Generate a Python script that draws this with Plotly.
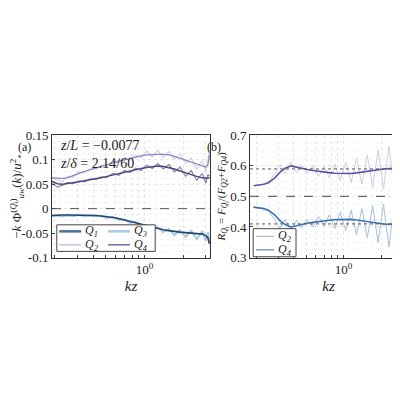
import plotly.graph_objects as go

kz = [0.19, 0.21, 0.23, 0.25, 0.28, 0.31, 0.34, 0.38, 0.42, 0.46, 0.51, 0.57, 0.63, 0.70, 0.77,
      0.85, 0.94, 1.04, 1.15, 1.27, 1.40, 1.55, 1.71, 1.89, 2.09, 2.31, 2.55, 2.82, 3.00, 3.12, 3.20]

# panel (a): smooth and raw spectra
q2_smooth = [0.063, 0.062, 0.062, 0.063, 0.067, 0.072, 0.076, 0.080, 0.083, 0.086, 0.089, 0.093, 0.097,
             0.100, 0.103, 0.106, 0.108, 0.110, 0.111, 0.111, 0.111, 0.110, 0.107, 0.103, 0.099, 0.095,
             0.090, 0.086, 0.085, 0.090, 0.110]
q2_raw = [0.063, 0.058, 0.055, 0.066, 0.064, 0.075, 0.073, 0.082, 0.081, 0.089, 0.086, 0.096, 0.094,
          0.104, 0.099, 0.110, 0.104, 0.118, 0.106, 0.119, 0.105, 0.117, 0.101, 0.112, 0.093, 0.104,
          0.080, 0.098, 0.075, 0.100, 0.120]
q4_smooth = [0.056, 0.051, 0.050, 0.051, 0.053, 0.055, 0.057, 0.059, 0.061, 0.063, 0.066, 0.069, 0.072,
             0.075, 0.077, 0.079, 0.082, 0.084, 0.086, 0.087, 0.086, 0.084, 0.081, 0.077, 0.073, 0.069,
             0.066, 0.063, 0.062, 0.062, 0.064]
q4_raw = [0.052, 0.044, 0.048, 0.053, 0.051, 0.057, 0.055, 0.061, 0.060, 0.065, 0.064, 0.072, 0.068,
          0.078, 0.074, 0.083, 0.078, 0.089, 0.082, 0.092, 0.081, 0.090, 0.075, 0.085, 0.066, 0.078,
          0.058, 0.072, 0.052, 0.070, 0.066]
q1_smooth = [-0.014, -0.013, -0.013, -0.013, -0.013, -0.013, -0.013, -0.013, -0.014, -0.015, -0.016,
             -0.018, -0.020, -0.023, -0.026, -0.029, -0.032, -0.035, -0.038, -0.041, -0.043, -0.045,
             -0.047, -0.048, -0.049, -0.050, -0.051, -0.052, -0.055, -0.060, -0.072]
q3_raw = [-0.015, -0.014, -0.016, -0.014, -0.015, -0.013, -0.015, -0.014, -0.016, -0.015, -0.019,
          -0.017, -0.023, -0.022, -0.029, -0.027, -0.036, -0.033, -0.042, -0.038, -0.048, -0.042,
          -0.054, -0.044, -0.058, -0.045, -0.062, -0.046, -0.066, -0.048, -0.070]

# panel (b): quadrant ratios
r_up_smooth = [0.535, 0.537, 0.540, 0.545, 0.560, 0.580, 0.592, 0.600, 0.596, 0.590, 0.588, 0.585,
               0.582, 0.580, 0.578, 0.576, 0.575, 0.574, 0.575, 0.577, 0.580, 0.583, 0.586, 0.589,
               0.590, 0.591, 0.590, 0.591, 0.592, 0.595, 0.600]
r_up_raw = [0.535, 0.538, 0.541, 0.548, 0.575, 0.605, 0.575, 0.612, 0.578, 0.603, 0.575, 0.600,
            0.565, 0.598, 0.560, 0.605, 0.552, 0.612, 0.545, 0.625, 0.540, 0.635, 0.530, 0.650,
            0.525, 0.665, 0.520, 0.660, 0.525, 0.640, 0.600]
r_lo_smooth = [0.465, 0.463, 0.460, 0.455, 0.440, 0.420, 0.408, 0.400, 0.404, 0.410, 0.412, 0.415,
               0.418, 0.420, 0.422, 0.424, 0.425, 0.426, 0.425, 0.423, 0.420, 0.417, 0.414, 0.411,
               0.410, 0.409, 0.410, 0.409, 0.408, 0.405, 0.400]
r_lo_raw = [0.465, 0.462, 0.459, 0.452, 0.425, 0.395, 0.425, 0.388, 0.422, 0.397, 0.425, 0.400,
            0.435, 0.402, 0.440, 0.395, 0.448, 0.388, 0.455, 0.375, 0.460, 0.365, 0.470, 0.350,
            0.475, 0.335, 0.480, 0.340, 0.475, 0.360, 0.400]

x_gridvals = [0.2, 0.3, 0.4, 0.5, 0.6, 0.7, 0.8, 0.9, 1, 2, 3]
x_gridtext = ["", "", "", "", "", "", "", "", "10<sup>0</sup>", "", ""]

FONT = "Liberation Serif"
c_q1 = "#4B6E9A"
c_q2 = "#B9B4D8"
c_q3 = "#A9C9E8"
c_q4 = "#4E4A80"

fig = go.Figure()

def add(x, y, color, width, axis):
    fig.add_trace(go.Scatter(x=x, y=y, mode="lines", line=dict(color=color, width=width),
                             xaxis="x" + axis, yaxis="y" + axis, showlegend=False))

add(kz, q2_raw, "#D3D0E8", 1.2, "")
add(kz, q2_smooth, "#8A84C0", 1.3, "")
add(kz, q4_raw, "#8884AC", 1.2, "")
add(kz, q4_smooth, c_q4, 1.5, "")
add(kz, q3_raw, c_q3, 2.0, "")
add(kz, q1_smooth, "#23466E", 1.6, "")

add(kz, r_up_raw, "#CFCBE0", 1.0, "2")
add(kz, r_up_smooth, "#5A52A8", 1.6, "2")
add(kz, r_lo_raw, "#A8BED6", 1.0, "2")
add(kz, r_lo_smooth, "#3F73B0", 1.6, "2")

axis_common = dict(showline=True, linecolor="#333", mirror=True, ticks="inside", ticklen=3,
                   gridcolor="#E6E6E6", griddash="dot", zeroline=False,
                   tickfont=dict(family=FONT, size=13, color="#222"))

fig.update_layout(
    width=400, height=400, margin=dict(l=0, r=0, t=0, b=0),
    paper_bgcolor="white", plot_bgcolor="white",
    font=dict(family=FONT, color="#222"),
    xaxis=dict(type="log", range=[-0.72, 0.51], domain=[0.11, 0.505], anchor="y",
               tickvals=x_gridvals, ticktext=x_gridtext,
               title=dict(text="<i>kz</i>", font=dict(size=15), standoff=4), **axis_common),
    yaxis=dict(range=[-0.1, 0.15], domain=[0.37, 0.6875], anchor="x",
               tickvals=[-0.1, -0.05, 0, 0.05, 0.1, 0.15],
               ticktext=["-0.1", "-0.05", "0", "0.05", "0.1", "0.15"],
               minor=dict(showgrid=True, dtick=0.0125, gridcolor="#F0F0F0", griddash="dot"),
               title=dict(text="−<i>k</i> Φ<sup>(<i>Q<sub>i</sub></i>)</sup><sub><i>uw</i></sub>(<i>k</i>)/<i>u</i><sup>2</sup><sub>*</sub>",
                          font=dict(size=13), standoff=3),
               **axis_common),
    xaxis2=dict(type="log", range=[-0.75, 0.51], domain=[0.605, 0.998], anchor="y2",
                tickvals=x_gridvals, ticktext=x_gridtext,
                title=dict(text="<i>kz</i>", font=dict(size=15), standoff=4), **axis_common),
    yaxis2=dict(range=[0.3, 0.7], domain=[0.37, 0.6875], anchor="x2",
                tickvals=[0.3, 0.4, 0.5, 0.6, 0.7],
                minor=dict(showgrid=True, dtick=0.025, gridcolor="#F0F0F0", griddash="dot"),
                title=dict(text="<i>R<sub>Q<sub>i</sub></sub></i> = <i>F<sub>Q<sub>i</sub></sub></i>/(<i>F<sub>Q2</sub></i>+<i>F<sub>Q4</sub></i>)",
                           font=dict(size=11), standoff=2),
                **axis_common),
    showlegend=False,
)

fig.add_hline(y=0, line=dict(color="#555", width=1, dash="dash"), xref="x", yref="y")
fig.add_hline(y=0.5, line=dict(color="#666", width=1.3, dash="dash"), xref="x2", yref="y2")
fig.add_hline(y=0.59, line=dict(color="#555", width=1, dash="dot"), xref="x2", yref="y2")
fig.add_hline(y=0.41, line=dict(color="#555", width=1, dash="dot"), xref="x2", yref="y2")

fig.add_annotation(x=0.02, y=0.68, xref="paper", yref="paper", text="(a)", showarrow=False,
                   font=dict(size=12))
fig.add_annotation(x=0.515, y=0.68, xref="paper", yref="paper", text="(b)", showarrow=False,
                   font=dict(size=12))
fig.add_annotation(x=0.125, y=0.685, xref="paper", yref="paper", xanchor="left", yanchor="top",
                   align="left", showarrow=False, font=dict(size=14),
                   text="<i>z</i>/<i>L</i> = −0.0077<br><i>z</i>/<i>δ</i> = 2.14/60")

# legends drawn in paper coords
fig.add_shape(type="rect", x0=0.122, x1=0.368, y0=0.386, y1=0.455, xref="paper", yref="paper",
              line=dict(color="#444", width=1), fillcolor="white")
fig.add_shape(type="rect", x0=0.613, x1=0.72, y0=0.372, y1=0.445, xref="paper", yref="paper",
              line=dict(color="#444", width=1), fillcolor="white")
entries = [("Q<sub>1</sub>", c_q1, 2.5, 0.128, 0.438, 0.055), ("Q<sub>3</sub>", c_q3, 2.5, 0.25, 0.438, 0.055),
           ("Q<sub>2</sub>", c_q2, 1.2, 0.128, 0.403, 0.055), ("Q<sub>4</sub>", c_q4, 1.2, 0.25, 0.403, 0.055),
           ("Q<sub>2</sub>", "#BDBAD0", 1.2, 0.62, 0.425, 0.045), ("Q<sub>4</sub>", "#5B86BA", 1.2, 0.62, 0.39, 0.045)]
for label, color, w, x0, y0, ln in entries:
    fig.add_shape(type="line", x0=x0, x1=x0 + ln, y0=y0, y1=y0, xref="paper", yref="paper",
                  line=dict(color=color, width=w))
    fig.add_annotation(x=x0 + ln + 0.004, y=y0, xref="paper", yref="paper", xanchor="left",
                       text="<i>" + label + "</i>", showarrow=False, font=dict(size=12))

fig.write_html("out.html")
